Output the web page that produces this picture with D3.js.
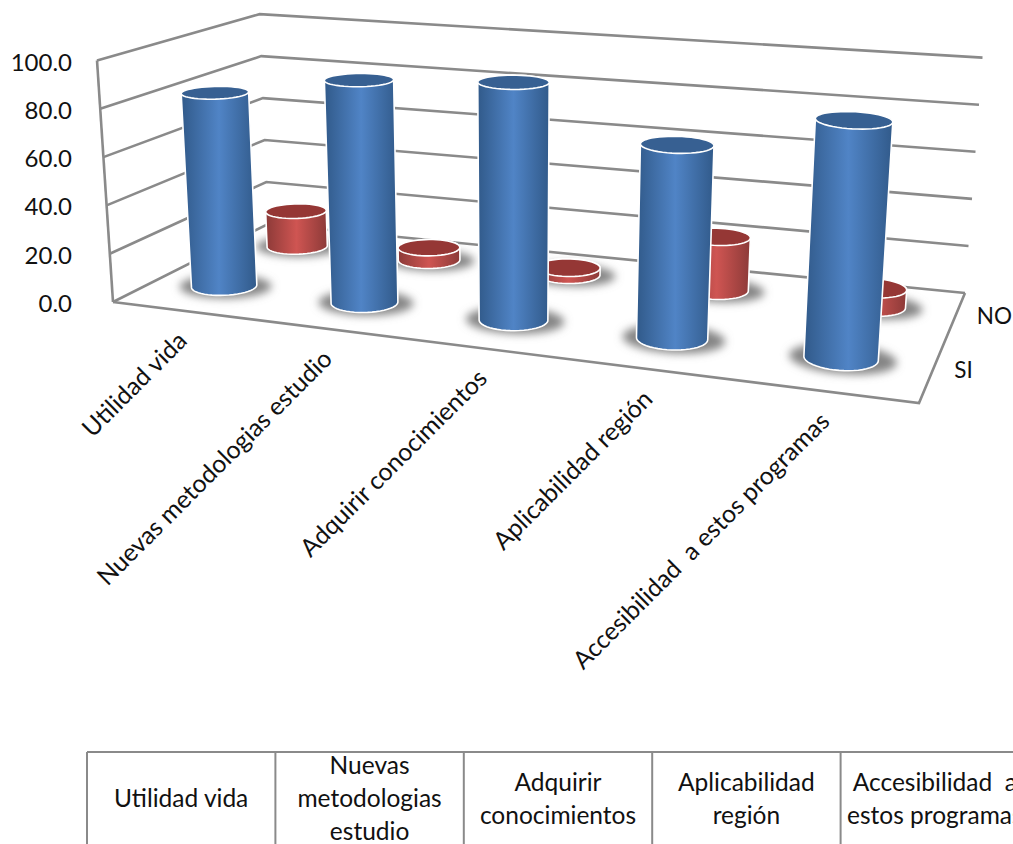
<!DOCTYPE html>
<html>
<head>
<meta charset="utf-8">
<script src="https://cdn.jsdelivr.net/npm/d3@7"></script>
<style>
html, body { margin: 0; padding: 0; background: #fff; overflow: hidden; }
svg { display: block; }
text { font-family: Lato, "Open Sans", sans-serif; fill: #111; white-space: pre; }
</style>
</head>
<body>
<svg width="1013" height="844"></svg>
<script>
var categories = ["Utilidad vida", "Nuevas metodologias estudio", "Adquirir conocimientos", "Aplicabilidad región", "Accesibilidad  a estos programas"];
var seriesNames = ["SI", "NO"];
var siValues = [82, 92, 96, 76.5, 92];
var noValues = [16, 5.5, 3, 22.5, 7.5];
var yTicks = [0, 20, 40, 60, 80, 100];
var tableLines = [["Utilidad vida"], ["Nuevas", "metodologias", "estudio"], ["Adquirir", "conocimientos"], ["Aplicabilidad", "región"], ["Accesibilidad  a", "estos programas"]];

var svg = d3.select("svg");

// scales work in the box of the 3d chart, all 0..1
var xscale = d3.scaleBand().domain(categories).range([-0.004, 0.996]);
var zscale = d3.scaleBand().domain(seriesNames).range([0.02, 1.02]);
var yscale = d3.scaleLinear().domain([0, 100]).range([0, 1]);

// square to quad mapping, corners in order (0,0) (1,0) (1,1) (0,1)
var makeQuad = function(q)
{
    var dx1 = q[1][0] - q[2][0], dx2 = q[3][0] - q[2][0], sx = q[0][0] - q[1][0] + q[2][0] - q[3][0];
    var dy1 = q[1][1] - q[2][1], dy2 = q[3][1] - q[2][1], sy = q[0][1] - q[1][1] + q[2][1] - q[3][1];
    var det = dx1 * dy2 - dx2 * dy1;
    var g = (sx * dy2 - dx2 * sy) / det;
    var h = (dx1 * sy - sx * dy1) / det;
    var a = q[1][0] - q[0][0] + g * q[1][0], b = q[3][0] - q[0][0] + h * q[3][0];
    var d = q[1][1] - q[0][1] + g * q[1][1], e = q[3][1] - q[0][1] + h * q[3][1];
    return function(u, v)
    {
        var w = g * u + h * v + 1;
        return [(a * u + b * v + q[0][0]) / w, (d * u + e * v + q[0][1]) / w];
    };
};

var floorQuad = makeQuad([[113, 302], [919, 403], [965, 293], [268, 224]]);
var vanish = [514, 6360];

// height of the box at each floor corner, blended over the floor
var project = function(u, v, w)
{
    // the picture's perspective is a bit flatter along the width than the quad
    var f = floorQuad(u + 0.04 * u * (1 - u), v);
    var h = (1 - v) * ((1 - u) * 242 + u * 272) + v * ((1 - u) * 210 + u * 236);
    var dx = f[0] - vanish[0], dy = f[1] - vanish[1];
    var len = Math.sqrt(dx * dx + dy * dy);
    return [f[0] + dx / len * h * w, f[1] + dy / len * h * w];
};

var line = d3.line();
var gray = "#8a8a8a";

var defs = svg.append("defs");
var addGradient = function(id, edge, mid)
{
    var g = defs.append("linearGradient").attr("id", id);
    g.append("stop").attr("offset", "0%").attr("stop-color", edge);
    g.append("stop").attr("offset", "50%").attr("stop-color", mid);
    g.append("stop").attr("offset", "100%").attr("stop-color", edge);
};
addGradient("blueSide", "#315a8a", "#5084c6");
addGradient("redSide", "#8c3a38", "#cf5552");
defs.append("filter").attr("id", "soft")
    .attr("x", "-30%").attr("y", "-60%").attr("width", "160%").attr("height", "220%")
    .append("feGaussianBlur").attr("stdDeviation", 4);

// walls and floor
var grid = svg.append("g").attr("fill", "none").attr("stroke", gray).attr("stroke-width", 2.6);
yTicks.forEach(function(t)
{
    var w = yscale(t);
    grid.append("path").attr("d", line([project(0, 0, w), project(0, 1, w), project(1, 1, w)]));
});
grid.append("path").attr("d", line([project(0, 0, 0), project(0, 0, 1)]));
grid.append("path").attr("d", line([project(0, 0, 0), project(1, 0, 0), project(1, 1, 0)]));

// one cylinder standing on the floor of the box
var circlePoints = function(cu, cv, ru, rv, w)
{
    return d3.range(48).map(function(i)
    {
        var a = i / 48 * 2 * Math.PI;
        return project(cu + ru * Math.cos(a), cv + rv * Math.sin(a), w);
    });
};

var drawCylinder = function(layer, c, sName, value, side, top)
{
    var cu = xscale(c) + xscale.bandwidth() / 2;
    var cv = zscale(sName) + zscale.bandwidth() / 2;
    var ru = 0.042, rv = 0.1;
    var w = yscale(value);
    var base = circlePoints(cu, cv, ru, rv, 0);
    var head = circlePoints(cu, cv, ru, rv, w);

    layer.append("path")
        .attr("d", line(circlePoints(cu + 0.002, cv, ru * 1.45, rv * 1.25, 0)) + "Z")
        .attr("fill", "#858585")
        .attr("filter", "url(#soft)");

    layer.append("path")
        .attr("d", line(d3.polygonHull(base.concat(head))) + "Z")
        .attr("fill", "url(#" + side + ")")
        .attr("stroke", "#fff")
        .attr("stroke-width", 1.6);

    layer.append("path")
        .attr("d", line(head) + "Z")
        .attr("fill", top)
        .attr("stroke", "#fff")
        .attr("stroke-width", 1.6);
};

var bars = svg.append("g");
categories.forEach(function(c, i) { drawCylinder(bars, c, "NO", noValues[i], "redSide", "#953735"); });
categories.forEach(function(c, i) { drawCylinder(bars, c, "SI", siValues[i], "blueSide", "#376092"); });

// value labels
yTicks.forEach(function(t)
{
    var p = project(0, 0, yscale(t));
    svg.append("text")
        .attr("x", 72).attr("y", p[1] + 10)
        .attr("text-anchor", "end")
        .attr("font-size", 24)
        .text(d3.format(".1f")(t));
});

// category labels, turned up along the front edge
categories.forEach(function(c)
{
    var p = project(xscale(c) + xscale.bandwidth() / 2, 0, 0);
    svg.append("text")
        .attr("transform", "translate(" + (p[0] + 9) + "," + (p[1] + 32) + ") rotate(-45)")
        .attr("text-anchor", "end")
        .attr("font-size", 24.8)
        .text(c);
});

// depth labels
seriesNames.forEach(function(s)
{
    var p = project(1, zscale(s) + zscale.bandwidth() / 2, 0);
    svg.append("text")
        .attr("x", p[0] + 21).attr("y", p[1] + 9)
        .attr("font-size", 22.5)
        .text(s);
});

// table under the chart, runs off the picture on the right and bottom
var tablex = d3.scaleBand().domain(categories).range([87, 1029]);
var table = svg.append("g");
table.append("line")
    .attr("x1", tablex.range()[0]).attr("x2", 1013)
    .attr("y1", 752).attr("y2", 752)
    .attr("stroke", gray).attr("stroke-width", 2);
categories.forEach(function(c, i)
{
    var x = tablex(c);
    table.append("line")
        .attr("x1", x).attr("x2", x)
        .attr("y1", 752).attr("y2", 844)
        .attr("stroke", gray).attr("stroke-width", 2);
    var lines = tableLines[i];
    lines.forEach(function(t, j)
    {
        table.append("text")
            .attr("x", x + tablex.bandwidth() / 2)
            .attr("y", 807 + (j - (lines.length - 1) / 2) * 33)
            .attr("text-anchor", "middle")
            .attr("font-size", 24.5)
            .text(t);
    });
});
</script>
</body>
</html>
